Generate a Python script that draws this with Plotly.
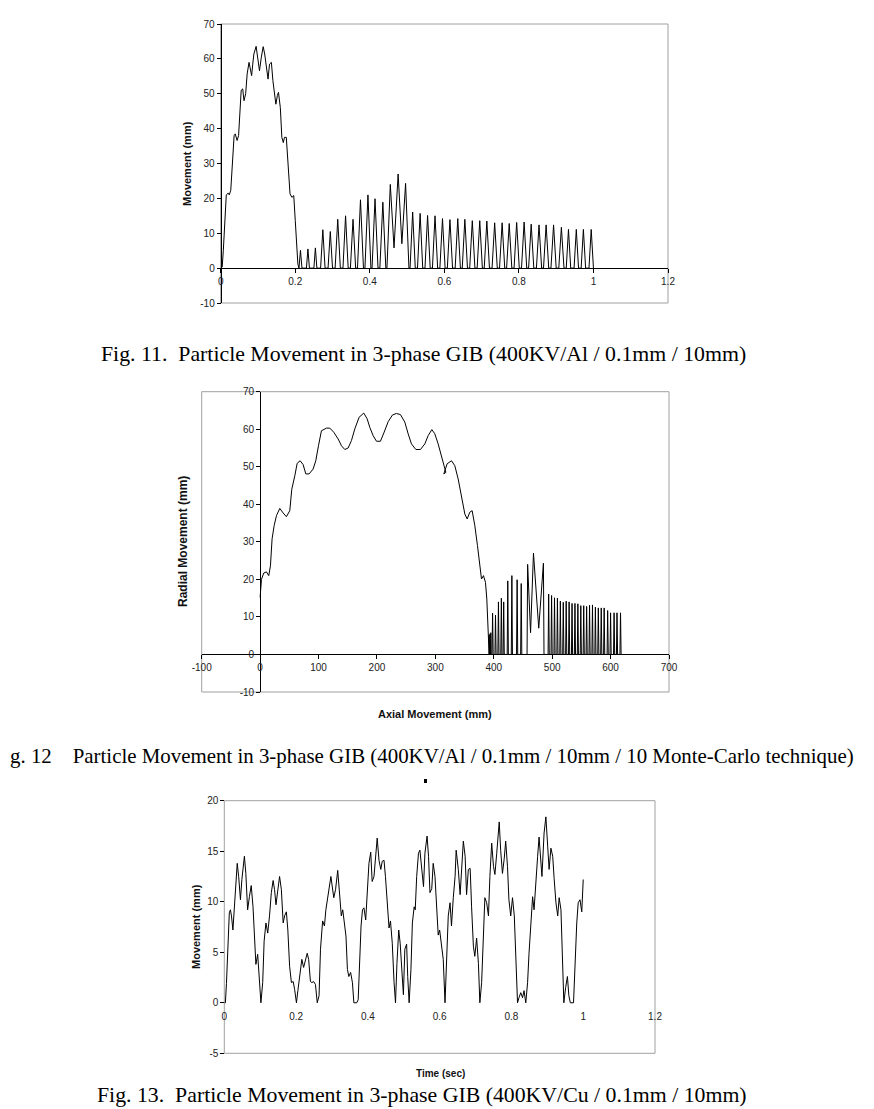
import plotly.graph_objects as go

# ---------------- Fig. 11 : radial movement vs time ----------------
hump_t = [0, 0.004, 0.007, 0.0125, 0.015, 0.020, 0.023, 0.027, 0.030, 0.033, 0.036, 0.039, 0.044,
          0.048, 0.051, 0.055, 0.059, 0.0625, 0.067, 0.071, 0.076, 0.079, 0.083, 0.086, 0.089, 0.095,
          0.097, 0.101, 0.104, 0.109, 0.114, 0.118, 0.122, 0.127, 0.131, 0.136, 0.140, 0.145, 0.148,
          0.152, 0.155, 0.160, 0.164, 0.168, 0.171, 0.176, 0.180, 0.186, 0.191, 0.196, 0.200, 0.204,
          0.207, 0.210]
hump_y = [0, 0.3, 5, 18.4, 21, 21.5, 21, 22.3, 28, 34.7, 38, 38.5, 36.6, 38, 45.7, 51, 51.4, 48, 50,
          55.7, 59, 57.6, 55.2, 58.5, 61.4, 63.6, 61.9, 58, 56.6, 60.5, 63.5, 61.4, 57.6, 54.2, 58.5,
          59, 53.8, 48.5, 47, 49.5, 50.4, 46, 37.5, 36, 37.5, 37.5, 29.9, 21.3, 20.3, 20.8, 13.7, 7,
          1.2, 0]

bounce_lift_t = [0.210, 0.230, 0.250, 0.268, 0.288, 0.307, 0.328, 0.348, 0.367, 0.387, 0.406, 0.427,
                 0.446, 0.465, 0.486, 0.508, 0.528, 0.548, 0.568, 0.588, 0.608, 0.629, 0.648, 0.668,
                 0.688, 0.707, 0.728, 0.748, 0.767, 0.787, 0.807, 0.826, 0.847, 0.866, 0.886, 0.907,
                 0.927, 0.948, 0.967, 0.988]
bounce_top_t = [0.214, 0.234, 0.254, 0.274, 0.294, 0.314, 0.335, 0.355, 0.375, 0.395, 0.414, 0.435,
                0.455, 0.476, 0.496, 0.515, 0.535, 0.555, 0.575, 0.595, 0.615, 0.636, 0.655, 0.675,
                0.695, 0.714, 0.735, 0.755, 0.774, 0.794, 0.814, 0.833, 0.854, 0.873, 0.893, 0.914,
                0.933, 0.954, 0.973, 0.994]
bounce_land_t = [0.218, 0.238, 0.258, 0.280, 0.300, 0.321, 0.342, 0.362, 0.383, 0.403, 0.422, 0.443,
                 0.465, 0.486, 0.505, 0.522, 0.542, 0.562, 0.582, 0.602, 0.622, 0.643, 0.662, 0.682,
                 0.702, 0.721, 0.742, 0.762, 0.781, 0.801, 0.821, 0.840, 0.861, 0.880, 0.900, 0.921,
                 0.939, 0.960, 0.979, 1.000]
bounce_top = [5.1, 5.5, 5.8, 11, 10.5, 14, 15, 14, 19.6, 21, 19.9, 18.9, 24, 27, 24.3, 16.1, 15.7, 15.1,
              15, 14.2, 13.9, 14.2, 14, 13.6, 13.6, 13.5, 13, 13, 12.8, 13.1, 13.2, 12.6, 12.4, 12.4,
              12.4, 11.7, 11.1, 11.1, 11.1, 11.1]
bounce_lift_y = [0] * 13 + [5.8, 7] + [0] * 25
bounce_land_y = [0] * 12 + [5.8, 7] + [0] * 26

# ---------------- Fig. 12 : radial vs axial movement ----------------
axial_main = [0, 2.3, 6.3, 10.8, 14.8, 17.7, 20.5, 24, 28, 33.7, 39.4, 45, 50.8, 54.2, 59.4, 63.4,
              68.5, 73.6, 78.2, 83.9, 90.8, 95.3, 99.9, 105, 113.6, 119.3, 126.1, 133.6, 139.3, 145,
              150.7, 156.4, 162.1, 169.5, 177.5, 183.2, 187.8, 193.5, 199.2, 206, 211.8, 219.2, 226.6,
              233.4, 240.3, 247.7, 253.4, 259.1, 266.6, 274.5, 282, 287.7, 294, 299, 304.8, 310.5,
              314.5, 318, 314.5, 320.2, 327.6, 333.3, 339, 344.7, 350.5, 354.5, 359, 363, 367.6, 372.1,
              376.1, 379, 382.4, 385.8, 388.1, 390.4, 392.1]
radial_main = [15.2, 20, 21.7, 22, 21, 23.6, 30.8, 34.3, 37, 38.9, 37.7, 36.7, 38.3, 44, 47.6, 50.9,
               51.6, 50.6, 48.1, 48.1, 49.4, 51.6, 55.6, 59.6, 60.3, 60.3, 59.2, 57.4, 55.6, 54.6, 55,
               57, 60.1, 63.2, 64.3, 62.8, 60.5, 58.3, 56.8, 56.8, 59, 62, 63.8, 64.2, 63.9, 61.9,
               58.8, 56.1, 54.6, 54.6, 56.1, 58.3, 59.9, 58.8, 56.1, 52.5, 49.9, 48.5, 48.1, 50.8,
               51.6, 50.3, 46.8, 42.3, 37.4, 36.1, 37.9, 38.3, 34.3, 29, 23.6, 20.1, 21, 19.2, 14.8,
               5.9, 0]
ax_lift = [392, 393, 394.5, 397, 402, 407, 412, 416, 423, 430, 439, 446, 457, 463, 477, 493, 498, 503,
           508, 513, 518, 523, 528, 533, 538, 543, 548, 553, 558, 563, 568, 573, 578, 583, 588, 594,
           599, 605, 610, 616]
ax_top = [392, 393.5, 395, 398, 403, 408, 413, 417, 424, 431, 440, 447, 458, 468, 485, 494, 499, 504,
          509, 514, 519, 524, 529, 534, 539, 544, 549, 554, 559, 564, 569, 574, 579, 584, 589, 595,
          600, 606, 611, 617]
ax_land = [393, 394, 395.5, 399, 404, 409, 414, 418, 425, 432, 441, 448, 463, 477, 486, 495, 500, 505,
           510, 515, 520, 525, 530, 535, 540, 545, 550, 555, 560, 565, 570, 575, 580, 585, 590, 596,
           601, 607, 612, 618]

# ---------------- Fig. 13 : Cu particle ----------------
t3 = [0, 0.003, 0.006, 0.009, 0.014, 0.017, 0.020, 0.024, 0.028, 0.033, 0.036, 0.040, 0.045, 0.049,
      0.056, 0.060, 0.065, 0.070, 0.075, 0.080, 0.084, 0.088, 0.093, 0.098, 0.102, 0.107, 0.111,
      0.116, 0.121, 0.126, 0.131, 0.136, 0.140, 0.144, 0.149, 0.154, 0.159, 0.164, 0.168, 0.173,
      0.177, 0.182, 0.187, 0.192, 0.196, 0.201, 0.205, 0.212, 0.216, 0.221, 0.226, 0.231, 0.235,
      0.240, 0.244, 0.249, 0.254, 0.259, 0.264, 0.268, 0.274, 0.279, 0.283, 0.289, 0.297, 0.305,
      0.310, 0.316, 0.321, 0.326, 0.330, 0.334, 0.339, 0.343, 0.347, 0.352, 0.357, 0.361, 0.369,
      0.373, 0.378, 0.381, 0.385, 0.389, 0.394, 0.399, 0.403, 0.408, 0.412, 0.417, 0.422, 0.426,
      0.431, 0.436, 0.440, 0.445, 0.449, 0.454, 0.459, 0.463, 0.468, 0.473, 0.477, 0.481, 0.486,
      0.490, 0.494, 0.499, 0.503, 0.508, 0.511, 0.515, 0.520, 0.524, 0.529, 0.532, 0.536, 0.541,
      0.545, 0.550, 0.555, 0.559, 0.565, 0.569, 0.573, 0.578, 0.582, 0.587, 0.591, 0.596, 0.600,
      0.605, 0.610, 0.615, 0.619, 0.624, 0.629, 0.633, 0.638, 0.643, 0.646, 0.652, 0.657, 0.661,
      0.666, 0.671, 0.675, 0.680, 0.685, 0.689, 0.694, 0.698, 0.703, 0.708, 0.712, 0.717, 0.722,
      0.726, 0.731, 0.736, 0.740, 0.745, 0.750, 0.754, 0.759, 0.766, 0.770, 0.775, 0.780, 0.784,
      0.789, 0.793, 0.798, 0.803, 0.808, 0.812, 0.817, 0.821, 0.826, 0.831, 0.835, 0.840, 0.845,
      0.849, 0.854, 0.859, 0.863, 0.868, 0.873, 0.877, 0.882, 0.885, 0.891, 0.896, 0.901, 0.905,
      0.910, 0.915, 0.919, 0.924, 0.929, 0.933, 0.938, 0.942, 0.946, 0.951, 0.956, 0.960, 0.964,
      0.973, 0.977, 0.982, 0.986, 0.991, 0.996, 1.0]
y3 = [0, 0, 1.9, 4.3, 8.9, 9.2, 8.6, 7.2, 9.2, 12.5, 13.8, 12.5, 10.2, 12.2, 14.5, 12.8, 9.2, 10.5,
      11.6, 9.5, 5.9, 3.8, 4.8, 2.6, 0, 2, 6.1, 7.9, 6.9, 8.6, 10.9, 12.1, 11.2, 9.7, 10.9, 12.5,
      11.2, 7.9, 8.6, 9, 7.2, 3.6, 2, 2.1, 1.3, 0, 1.2, 3.6, 4.3, 3.5, 4.3, 4.9, 4.3, 2.1, 2, 2.1,
      1.8, 0, 0.7, 5.3, 8.1, 7.6, 9.2, 10.5, 12.5, 10.4, 11.2, 13.1, 11.2, 8.6, 9.2, 7.9, 6.6, 3.3,
      2.6, 3, 2, 0, 0, 0.3, 5.3, 7.6, 9.2, 9.4, 8.2, 10.9, 13.8, 14.9, 12, 12.5, 15, 16.3, 14.1,
      13.2, 14, 14.1, 12.5, 9.5, 7.4, 8.1, 5.9, 2, 0, 3.9, 7.2, 5.9, 3, 0.8, 5.3, 5.8, 2.6, 0, 3.3,
      7.9, 9.5, 9.2, 12.5, 14.8, 15.1, 13.5, 11.5, 14.8, 16.5, 14.5, 10.9, 11.3, 13.8, 12.5, 9.5,
      6.7, 7.2, 5.9, 4.3, 0, 3.9, 8.6, 9.9, 7.6, 10.4, 12.5, 15.1, 13.2, 10.7, 12.7, 16, 14.5, 10.7,
      13.2, 13.3, 9.5, 5.6, 4.6, 6.4, 3.9, 0, 2, 7.6, 10.4, 9.9, 8.6, 12.5, 15.8, 13.5, 12.7, 14.8,
      17.9, 15.1, 12.8, 14.3, 16, 13.5, 10.2, 8.6, 10.4, 8.6, 4.9, 0, 0.5, 1, 0.5, 1.2, 0, 2, 4.9,
      7.6, 10.5, 9.2, 12.5, 14.5, 16.4, 13.5, 12.5, 16.8, 18.4, 15.5, 13.2, 15.3, 14.5, 12.3, 9.9,
      8.6, 10.4, 9.2, 5.3, 0, 1.5, 2.6, 0.7, 0, 0, 3.9, 7.9, 9.9, 10.2, 9, 12.2]

# ---------------- tick labels ----------------
time_ticks = [0, 0.2, 0.4, 0.6, 0.8, 1, 1.2]
time_labels = ["0", "0.2", "0.4", "0.6", "0.8", "1", "1.2"]
mm70_ticks = [-10, 0, 10, 20, 30, 40, 50, 60, 70]
mm70_labels = ["-10", "0", "10", "20", "30", "40", "50", "60", "70"]
axial_ticks = [-100, 0, 100, 200, 300, 400, 500, 600, 700]
axial_labels = ["-100", "0", "100", "200", "300", "400", "500", "600", "700"]
mm20_ticks = [-5, 0, 5, 10, 15, 20]
mm20_labels = ["-5", "0", "5", "10", "15", "20"]

captions = [
    "Fig. 11.\u00a0\u00a0Particle Movement in 3-phase GIB (400KV/Al / 0.1mm / 10mm)",
    "g. 12\u00a0\u00a0\u00a0\u00a0Particle Movement in 3-phase GIB (400KV/Al / 0.1mm / 10mm / 10 Monte-Carlo technique)",
    "Fig. 13.\u00a0\u00a0Particle Movement in 3-phase GIB (400KV/Cu / 0.1mm / 10mm)",
]

# ---------------- build traces ----------------
OFF = 8                      # page body margin of the html page
W, H = 874 - OFF, 1109 - OFF
x1 = list(hump_t)
y1 = list(hump_y)
for i in range(len(bounce_top)):
    x1 += [bounce_lift_t[i], bounce_top_t[i], bounce_land_t[i]]
    y1 += [bounce_lift_y[i], bounce_top[i], bounce_land_y[i]]

x2 = list(axial_main)
y2 = list(radial_main)
for i in range(len(bounce_top)):
    x2 += [ax_lift[i], ax_top[i], ax_land[i]]
    y2 += [bounce_lift_y[i], bounce_top[i], bounce_land_y[i]]

line = dict(color="#000000", width=1)
fig = go.Figure()
fig.add_trace(go.Scatter(x=x1, y=y1, mode="lines", line=line, xaxis="x", yaxis="y", showlegend=False))
fig.add_trace(go.Scatter(x=x2, y=y2, mode="lines", line=line, xaxis="x2", yaxis="y2", showlegend=False))
fig.add_trace(go.Scatter(x=t3, y=y3, mode="lines", line=line, xaxis="x3", yaxis="y3", showlegend=False))


def px_x(p):
    return (p - OFF) / W


def px_y(p):
    return 1 - (p - OFF) / H


tickfont = dict(family="Liberation Sans, Arial", size=10, color="#222222")

panels = [
    dict(l=220.7, r=668, t=24, b=303, xr=[0, 1.2], yr=[-10, 70],
         xt=(time_ticks, time_labels), yt=(mm70_ticks, mm70_labels), xline=True, yline=True),
    dict(l=201.7, r=669, t=391.7, b=692, xr=[-100, 700], yr=[-10, 70],
         xt=(axial_ticks, axial_labels), yt=(mm70_ticks, mm70_labels), xline=True, yline=True),
    dict(l=224.3, r=655, t=800.7, b=1053.3, xr=[0, 1.2], yr=[-5, 20],
         xt=(time_ticks, time_labels), yt=(mm20_ticks, mm20_labels), xline=False, yline=False),
]

layout = dict(width=W, height=H, margin=dict(l=0, r=0, t=0, b=0, pad=0), autosize=False,
              paper_bgcolor="white", plot_bgcolor="white", showlegend=False)
shapes = []
for k, p in enumerate(panels, start=1):
    xd = [px_x(p["l"]), px_x(p["r"])]
    yd = [px_y(p["b"]), px_y(p["t"])]
    # axes cross at zero
    xzero = xd[0] + (0 - p["xr"][0]) / (p["xr"][1] - p["xr"][0]) * (xd[1] - xd[0])
    yzero = yd[0] + (0 - p["yr"][0]) / (p["yr"][1] - p["yr"][0]) * (yd[1] - yd[0])
    sx = "" if k == 1 else str(k)
    layout["xaxis" + sx] = dict(
        domain=xd, range=p["xr"], tickmode="array", tickvals=p["xt"][0], ticktext=p["xt"][1],
        anchor="free", position=yzero, automargin=False,
        showline=p["xline"], linecolor="#000000", linewidth=1,
        ticks="outside" if p["xline"] else "", ticklen=4, tickcolor="#000000",
        ticklabelstandoff=0 if p["xline"] else 6,
        showgrid=False, zeroline=False, tickfont=tickfont, fixedrange=True)
    layout["yaxis" + sx] = dict(
        domain=yd, range=p["yr"], tickmode="array", tickvals=p["yt"][0], ticktext=p["yt"][1],
        anchor="free", position=xzero, automargin=False,
        showline=p["yline"], linecolor="#000000", linewidth=1,
        ticks="outside", ticklen=4, tickcolor="#000000",
        showgrid=False, zeroline=False, tickfont=tickfont, fixedrange=True)
    shapes.append(dict(type="rect", xref="x%s domain" % sx, yref="y%s domain" % sx,
                       x0=0, x1=1, y0=0, y1=1, line=dict(color="#a0a0a0", width=1), layer="below"))

# small mark below the Fig. 12 caption
shapes.append(dict(type="rect", xref="paper", yref="paper", x0=px_x(424), x1=px_x(427),
                   y0=px_y(783), y1=px_y(779), fillcolor="#000000", line=dict(width=0)))
layout["shapes"] = shapes

titlefont = dict(family="Liberation Sans, Arial", size=11, color="#111111")
cap_font = dict(family="Liberation Serif, Times New Roman", size=21.8, color="#000000")
ann = [
    dict(text="<b>Movement (mm)</b>", x=px_x(187), y=px_y(164), textangle=-90, font=titlefont),
    dict(text="<b>Radial Movement (mm)</b>", x=px_x(183), y=px_y(542), textangle=-90,
         font=dict(titlefont, size=12)),
    dict(text="<b>Axial Movement (mm)</b>", x=px_x(435), y=px_y(714), font=titlefont),
    dict(text="<b>Movement (mm)</b>", x=px_x(196), y=px_y(927), textangle=-90, font=titlefont),
    dict(text="<b>Time (sec)</b>", x=px_x(440), y=px_y(1073), font=dict(titlefont, size=10)),
    dict(text=captions[0], x=px_x(423), y=px_y(354), font=cap_font),
    dict(text=captions[1], x=px_x(8), y=px_y(756), xanchor="left", font=dict(cap_font, size=20.9)),
    dict(text=captions[2], x=px_x(422), y=px_y(1095), font=cap_font),
]
for a in ann:
    a.update(xref="paper", yref="paper", showarrow=False)
    a.setdefault("xanchor", "center")
    a["yanchor"] = "middle"
layout["annotations"] = ann

fig.update_layout(**layout)
fig.write_html("out.html")
